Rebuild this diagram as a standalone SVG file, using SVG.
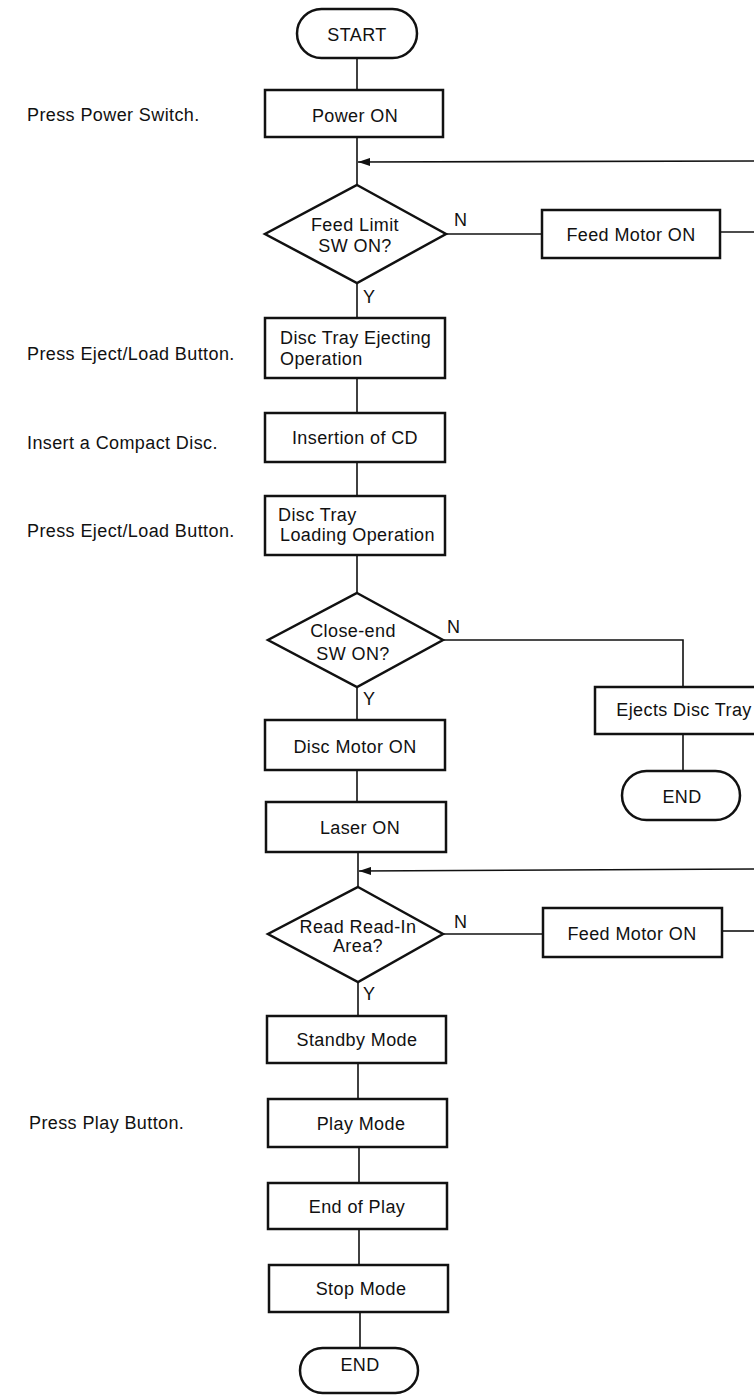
<svg xmlns="http://www.w3.org/2000/svg" width="754" height="1395" viewBox="0 0 754 1395">
<style>
.box{fill:#fff;stroke:#111;stroke-width:2.5}
.ln{fill:none;stroke:#111;stroke-width:1.6}
text{font-family:"Liberation Sans",Arial,sans-serif;font-size:18px;fill:#111;letter-spacing:0.4px}
.c{text-anchor:middle}
</style>
<defs>
<marker id="ah" markerWidth="12" markerHeight="8" refX="12" refY="4" orient="auto" markerUnits="userSpaceOnUse">
<path d="M0,0 L12,4 L0,8 Z" fill="#111"/>
</marker>
</defs>
<rect width="754" height="1395" fill="#fff"/>

<g id="connectors">
<line class="ln" x1="357" y1="58" x2="357" y2="90"/>
<line class="ln" x1="357" y1="137" x2="357" y2="185"/>
<line class="ln" x1="754" y1="161" x2="358" y2="162" marker-end="url(#ah)"/>
<line class="ln" x1="446" y1="234" x2="542" y2="234"/>
<line class="ln" x1="720" y1="232" x2="754" y2="232"/>
<line class="ln" x1="357" y1="283" x2="357" y2="318"/>
<line class="ln" x1="357" y1="378" x2="357" y2="413"/>
<line class="ln" x1="357" y1="462" x2="357" y2="496"/>
<line class="ln" x1="357" y1="555" x2="357" y2="593"/>
<polyline class="ln" points="443,640 683,640 683,687"/>
<line class="ln" x1="683" y1="734" x2="683" y2="771"/>
<line class="ln" x1="357" y1="687" x2="357" y2="720"/>
<line class="ln" x1="357" y1="770" x2="357" y2="802"/>
<line class="ln" x1="358" y1="852" x2="358" y2="887"/>
<line class="ln" x1="754" y1="869" x2="359" y2="871" marker-end="url(#ah)"/>
<line class="ln" x1="443" y1="934" x2="543" y2="934"/>
<line class="ln" x1="722" y1="931" x2="754" y2="931"/>
<line class="ln" x1="358" y1="982" x2="358" y2="1016"/>
<line class="ln" x1="358" y1="1063" x2="358" y2="1099"/>
<line class="ln" x1="359" y1="1147" x2="359" y2="1183"/>
<line class="ln" x1="359" y1="1229" x2="359" y2="1265"/>
<line class="ln" x1="360" y1="1312" x2="360" y2="1348"/>
<text x="454" y="226">N</text>
<text x="363" y="303">Y</text>
<text x="447" y="633">N</text>
<text x="363" y="705">Y</text>
<text x="454" y="928">N</text>
<text x="363" y="1000">Y</text>
</g>

<g id="labels">
<text x="27" y="121">Press Power Switch.</text>
<text x="27" y="360">Press Eject/Load Button.</text>
<text x="27" y="449">Insert a Compact Disc.</text>
<text x="27" y="537">Press Eject/Load Button.</text>
<text x="29" y="1129">Press Play Button.</text>
</g>

<g id="start">
<rect class="box" x="297" y="9" width="120" height="49" rx="24.5"/>
<text class="c" x="357" y="41">START</text>
</g>
<g id="power-on">
<rect class="box" x="265" y="90" width="178" height="47"/>
<text class="c" x="355" y="122">Power ON</text>
</g>
<g id="feed-limit">
<polygon class="box" points="357,185 446,234 357,283 265,234"/>
<text class="c" x="355" y="231">Feed Limit</text>
<text class="c" x="355" y="252">SW ON?</text>
</g>
<g id="feed-motor-1">
<rect class="box" x="542" y="210" width="178" height="48"/>
<text class="c" x="631" y="241">Feed Motor ON</text>
</g>
<g id="ejecting">
<rect class="box" x="265" y="318" width="180" height="60"/>
<text x="280" y="344">Disc Tray Ejecting</text>
<text x="280" y="365">Operation</text>
</g>
<g id="insertion">
<rect class="box" x="265" y="413" width="180" height="49"/>
<text class="c" x="355" y="444">Insertion of CD</text>
</g>
<g id="loading">
<rect class="box" x="265" y="496" width="180" height="59"/>
<text x="278" y="521">Disc Tray</text>
<text x="280" y="541">Loading Operation</text>
</g>
<g id="close-end">
<polygon class="box" points="357,593 443,640 357,687 268,640"/>
<text class="c" x="353" y="637">Close-end</text>
<text class="c" x="353" y="660">SW ON?</text>
</g>
<g id="ejects-tray">
<rect class="box" x="595" y="687" width="162" height="47"/>
<text class="c" x="684" y="716">Ejects Disc Tray</text>
</g>
<g id="end-1">
<rect class="box" x="622" y="771" width="118" height="49" rx="24.5"/>
<text class="c" x="682" y="803">END</text>
</g>
<g id="disc-motor">
<rect class="box" x="265" y="720" width="180" height="50"/>
<text class="c" x="355" y="753">Disc Motor ON</text>
</g>
<g id="laser-on">
<rect class="box" x="266" y="802" width="180" height="50"/>
<text class="c" x="360" y="834">Laser ON</text>
</g>
<g id="read-in">
<polygon class="box" points="358,887 443,934 358,982 268,934"/>
<text class="c" x="358" y="933">Read Read-In</text>
<text class="c" x="358" y="952">Area?</text>
</g>
<g id="feed-motor-2">
<rect class="box" x="543" y="908" width="179" height="49"/>
<text class="c" x="632" y="940">Feed Motor ON</text>
</g>
<g id="standby">
<rect class="box" x="267" y="1016" width="179" height="47"/>
<text class="c" x="357" y="1046">Standby Mode</text>
</g>
<g id="play">
<rect class="box" x="268" y="1099" width="179" height="48"/>
<text class="c" x="361" y="1130">Play Mode</text>
</g>
<g id="end-of-play">
<rect class="box" x="268" y="1183" width="179" height="46"/>
<text class="c" x="357" y="1213">End of Play</text>
</g>
<g id="stop">
<rect class="box" x="269" y="1265" width="179" height="47"/>
<text class="c" x="361" y="1295">Stop Mode</text>
</g>
<g id="end-2">
<rect class="box" x="300" y="1348" width="118" height="45" rx="22.5"/>
<text class="c" x="360" y="1371">END</text>
</g>
</svg>
